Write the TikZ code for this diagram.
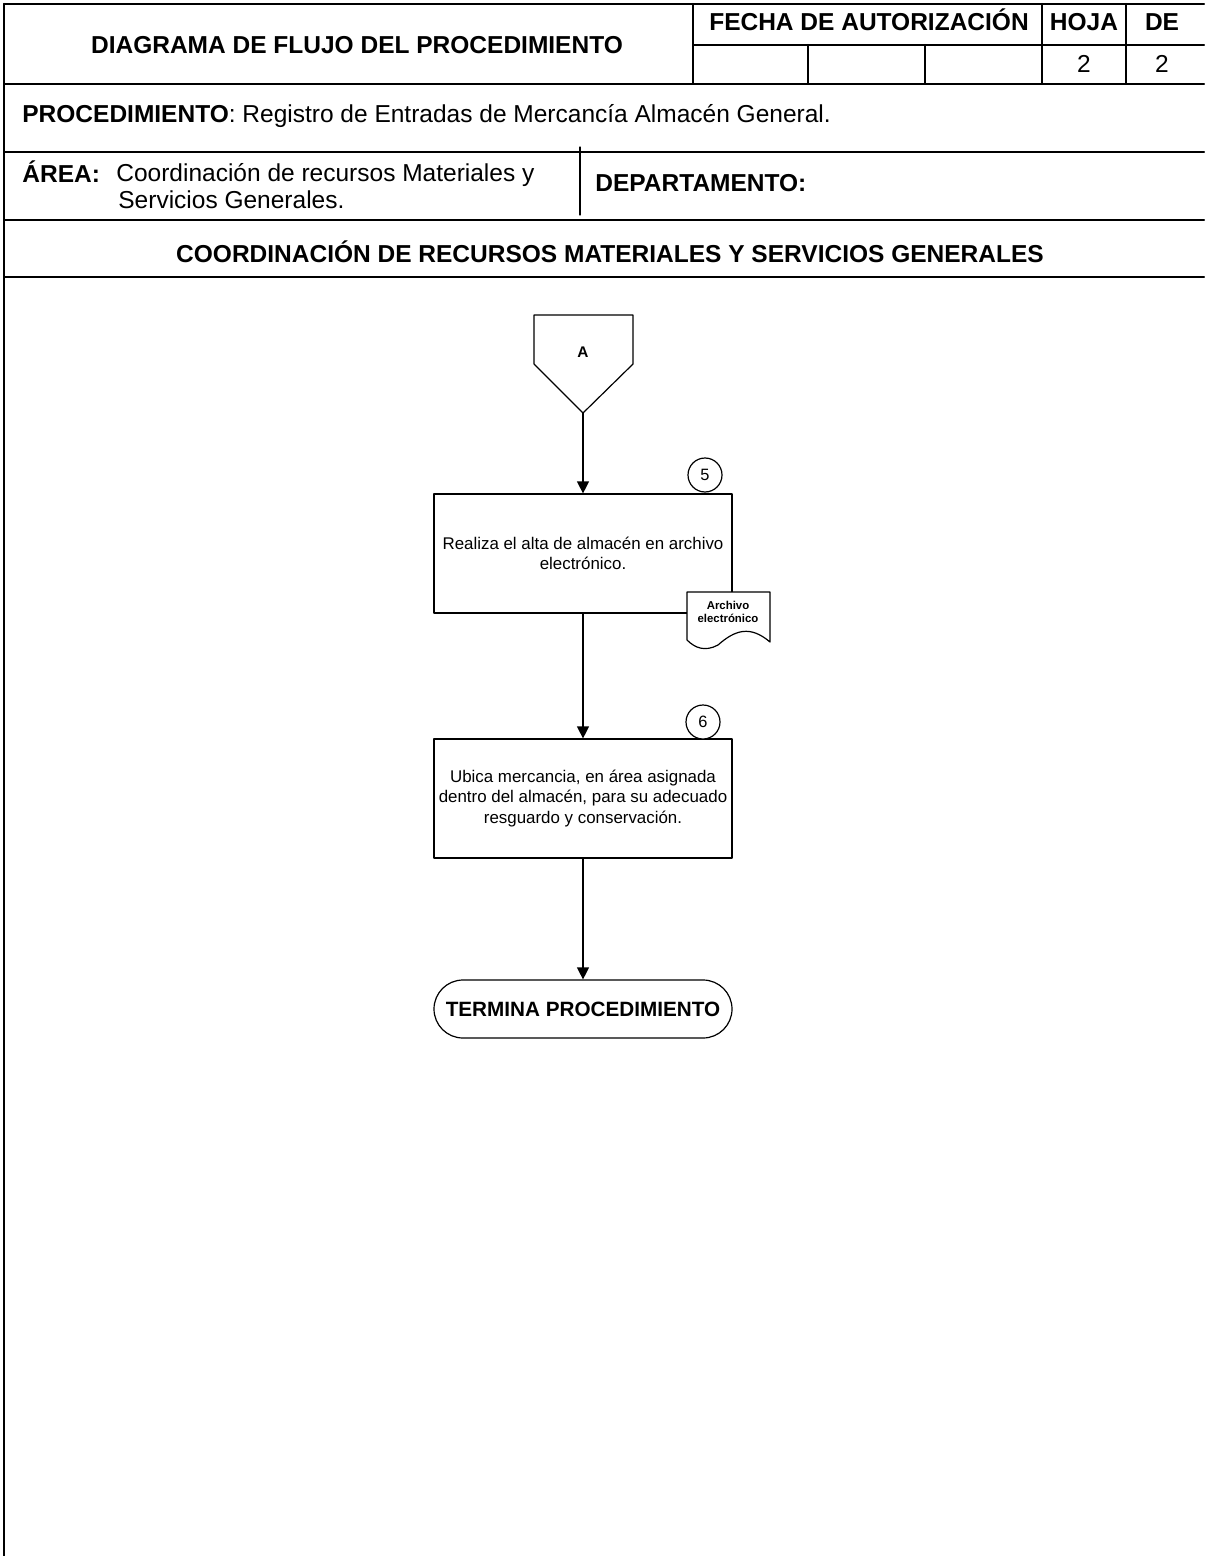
\documentclass[tikz,border=0pt]{standalone}
\usepackage{fontspec}
\setmainfont{Liberation Sans}
\usetikzlibrary{arrows.meta}

\begin{document}
\begin{tikzpicture}[x=0.5pt,y=-0.5pt,>={Triangle[length=6pt,width=6pt]}, line join=round, line cap=round,
		marco/.style={line width=1pt},
		titulo/.style={font=\fontsize{12.25}{13.5}\selectfont\bfseries},
		texto/.style={font=\fontsize{12.25}{13.5}\selectfont},
		caja/.style={draw,line width=0.6pt,minimum width=149pt,minimum height=59.5pt,align=center,inner sep=2pt,font=\fontsize{8.45}{10.1}\selectfont},
		numero/.style={draw,circle,line width=0.6pt,minimum size=17pt,inner sep=0pt,fill=white,font=\fontsize{8.2}{9}\selectfont},
		fin/.style={draw,line width=0.6pt,rounded corners=14.5pt,minimum width=149pt,minimum height=29pt,font=\fontsize{10.35}{12}\selectfont\bfseries}]
		\useasboundingbox (0,0) rectangle (1204,1556);
		\def\xa{4} \def\xb{1204} % bordes
		\def\ya{4} \def\yb{84} \def\yc{152} \def\yd{220} \def\ye{277}
		% encabezado
		\draw[marco] (\xa,\ya)--(\xb,\ya);
		\draw[marco] (693,45)--(\xb,45);
		\draw[marco] (\xa,\yb)--(\xb,\yb);
		\draw[marco] (\xa,\yc)--(\xb,\yc);
		\draw[marco] (\xa,\yd)--(\xb,\yd);
		\draw[marco] (\xa,\ye)--(\xb,\ye);
		\draw[marco] (\xa,\ya)--(\xa,1556);
		\draw[marco] (693,\ya)--(693,\yb);
		\draw[marco] (808,45)--(808,\yb);
		\draw[marco] (925,45)--(925,\yb);
		\draw[marco] (1042,\ya)--(1042,\yb);
		\draw[marco] (1126,\ya)--(1126,\yb);
		\draw[line width=0.6pt] (580,147)--(580,215);
		\node[titulo] (diagrama) at (357,45) {DIAGRAMA DE FLUJO DEL PROCEDIMIENTO};
		\node[titulo,anchor=base] (fecha) at (869,31) {FECHA DE AUTORIZACIÓN};
		\node[titulo,anchor=base] (hoja) at (1084,31) {HOJA};
		\node[titulo,anchor=base] (de) at (1162,31) {DE};
		\node[texto] (hojanum) at (1084,64) {2};
		\node[texto] (denum) at (1162,64) {2};
		\node[texto,anchor=west,inner sep=0pt] (proc) at (22,116) {\textbf{PROCEDIMIENTO}: Registro de Entradas de Mercancía Almacén General.};
		\node[titulo,anchor=west,inner sep=0pt] (area) at (22,172) {ÁREA:};
		\node[texto,anchor=north west,align=left,inner sep=0pt] (areatxt) at (116,163) {Coordinación de recursos Materiales y\\\hspace*{1pt}Servicios Generales.};
		\node[titulo,anchor=west,inner sep=0pt] (depto) at (595,183) {DEPARTAMENTO:};
		\node[titulo] (coord) at (610,252) {COORDINACIÓN DE RECURSOS MATERIALES Y SERVICIOS GENERALES};
		% conector de pagina
		\draw[line width=0.6pt] (534,315)--(633,315)--(633,364)--(583,413)--(534,364)--cycle;
		\node[font=\fontsize{7.7}{9}\selectfont\bfseries] (letraA) at (583,352) {A};
		\coordinate (puntaA) at (583,413);
		% pasos
		\node[caja] (paso5) at (583,553.5) {Realiza el alta de almacén en archivo\\electrónico.};
		\node[numero] (num5) at (705,475) {5};
		\draw[line width=0.6pt,fill=white] (687,592)--(770,592)--(770,642) .. controls (750,625) and (735,630) .. (718,645) .. controls (705,652) and (695,648) .. (687,640)--cycle;
		\node[align=center,font=\fontsize{5.7}{6.8}\selectfont\bfseries] (doc) at (728,612) {Archivo\\electrónico};
		\node[caja] (paso6) at (583,798.5) {Ubica mercancia, en área asignada\\dentro del almacén, para su adecuado\\resguardo y conservación.};
		\node[numero] (num6) at (703,722) {6};
		\node[fin] (termina) at (583,1009) {TERMINA PROCEDIMIENTO};
		% flechas
		\draw[->,line width=0.6pt] (puntaA)--(paso5);
		\draw[->,line width=0.6pt] (paso5)--(paso6);
		\draw[->,line width=0.6pt] (paso6)--(termina);
		\end{tikzpicture}
\end{document}
